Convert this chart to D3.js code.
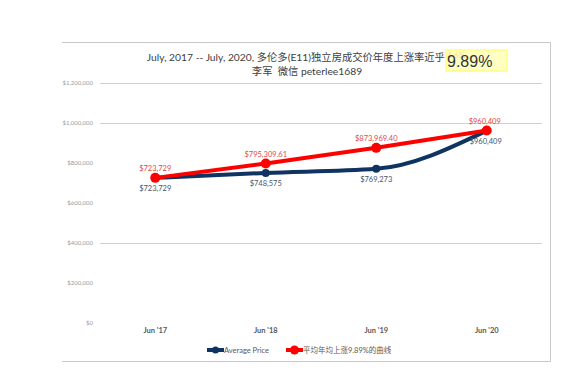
<!DOCTYPE html>
<html>
<head>
<meta charset="utf-8">
<script src="https://cdn.jsdelivr.net/npm/d3@7"></script>
<style>
  body { margin: 0; background: #fff; }
  svg text { font-family: Lato, "Noto Sans CJK SC", sans-serif; }
</style>
</head>
<body>
<div id="chart"></div>
<script>
// chart data
var categories = ["Jun '17", "Jun '18", "Jun '19", "Jun '20"];
var avgPrice = [723729, 748575, 769273, 960409];
var trendPrice = [723729, 795309.61, 873969.40, 960409];
var avgLabels = ["$723,729", "$748,575", "$769,273", "$960,409"];
var trendLabels = ["$723,729", "$795,309.61", "$873,969.40", "$960,409"];
var yTicks = [0, 200000, 400000, 600000, 800000, 1000000, 1200000];
var gridTicks = [400000, 1000000, 1200000];
var seriesNames = ["Average Price", "平均年均上涨9.89%的曲线"];

var width = 586, height = 383;
var blue = '#0f3462', red = '#ff0000';

var svg = d3.select('#chart').append('svg')
  .attr('width', width)
  .attr('height', height);

// chart frame (top, right, bottom)
svg.append('path')
  .attr('d', 'M62,42.5H550.5V361.5H62')
  .attr('fill', 'none')
  .attr('stroke', '#c8c8c8')
  .attr('stroke-width', 1);

var x = d3.scaleBand()
  .domain(categories)
  .range([100, 542]);

var y = d3.scaleLinear()
  .domain([0, 1200000])
  .range([322.5, 82.7]);

function cx(i) {
  return x(categories[i]) + x.bandwidth() / 2;
}

// gridlines
svg.append('g')
  .selectAll('line')
  .data(gridTicks)
  .enter().append('line')
  .attr('x1', 100)
  .attr('x2', 542)
  .attr('y1', function(d) { return Math.round(y(d)) + 0.5; })
  .attr('y2', function(d) { return Math.round(y(d)) + 0.5; })
  .attr('stroke', '#d0d0d0')
  .attr('stroke-width', 1);

// y axis labels
var yAxis = svg.append('g')
  .attr('transform', 'translate(93,0)')
  .call(d3.axisLeft(y).tickValues(yTicks).tickSize(0).tickPadding(0)
    .tickFormat(function(d) { return '$' + d3.format(',')(d); }));
yAxis.select('.domain').remove();
yAxis.selectAll('text')
  .attr('fill', '#9a9a9a')
  .style('font-size', '6px');

// x axis labels
var xAxis = svg.append('g')
  .attr('transform', 'translate(0,328)')
  .call(d3.axisBottom(x).tickSize(0).tickPadding(0));
xAxis.select('.domain').remove();
xAxis.selectAll('text')
  .attr('fill', '#595959')
  .style('font-size', '7.5px')
  .style('font-weight', 'bold');

var line = d3.line()
  .x(function(d, i) { return cx(i); })
  .y(function(d) { return y(d); })
  .curve(d3.curveMonotoneX);

// average price series
svg.append('path')
  .datum(avgPrice)
  .attr('fill', 'none')
  .attr('stroke', blue)
  .attr('stroke-width', 4)
  .attr('stroke-linecap', 'round')
  .attr('d', line);

svg.append('g')
  .selectAll('circle')
  .data(avgPrice)
  .enter().append('circle')
  .attr('cx', function(d, i) { return cx(i); })
  .attr('cy', function(d) { return y(d); })
  .attr('r', 4)
  .attr('fill', blue);

// trend series
svg.append('path')
  .datum(trendPrice)
  .attr('fill', 'none')
  .attr('stroke', red)
  .attr('stroke-width', 4)
  .attr('stroke-linecap', 'round')
  .attr('d', line);

svg.append('g')
  .selectAll('circle')
  .data(trendPrice)
  .enter().append('circle')
  .attr('cx', function(d, i) { return cx(i); })
  .attr('cy', function(d) { return y(d); })
  .attr('r', 5)
  .attr('fill', red);

// data labels
svg.append('g')
  .selectAll('text')
  .data(trendPrice)
  .enter().append('text')
  .attr('x', function(d, i) { return cx(i) - (i === 3 ? 2 : 0); })
  .attr('y', function(d) { return y(d) - 7; })
  .attr('text-anchor', 'middle')
  .attr('fill', '#e04848')
  .style('font-size', '7.5px')
  .text(function(d, i) { return trendLabels[i]; });

svg.append('g')
  .selectAll('text')
  .data(avgPrice)
  .enter().append('text')
  .attr('x', function(d, i) { return cx(i) - (i === 3 ? 1 : 0); })
  .attr('y', function(d) { return y(d) + 13; })
  .attr('text-anchor', 'middle')
  .attr('fill', '#44546a')
  .style('font-size', '7.5px')
  .text(function(d, i) { return avgLabels[i]; });

// title
var title = svg.append('text')
  .attr('x', 306)
  .attr('y', 61)
  .attr('text-anchor', 'middle')
  .attr('fill', '#404040')
  .style('font-size', '10.3px');
title.append('tspan').text('July, 2017 -- July, 2020, 多伦多(E11)独立房成交价年度上涨率近乎 ');
title.append('tspan').attr('fill', '#e07030').style('font-size', '8px').attr('dy', -3).text('4.6%');

svg.append('text')
  .attr('x', 307)
  .attr('y', 75)
  .attr('text-anchor', 'middle')
  .attr('fill', '#404040')
  .style('font-size', '10.3px')
  .style('white-space', 'pre')
  .text('李军\u00a0\u00a0微信 peterlee1689');

// yellow highlight box
svg.append('rect')
  .attr('x', 446)
  .attr('y', 50)
  .attr('width', 61)
  .attr('height', 21)
  .attr('fill', '#ffffb0')
  .attr('fill-opacity', 0.75)
  .attr('stroke', '#ffff80')
  .attr('stroke-width', 1.5);

svg.append('text')
  .attr('x', 447)
  .attr('y', 67)
  .attr('fill', '#333')
  .style('font-family', '"Liberation Sans", Arial, sans-serif')
  .style('font-size', '16px')
  .text('9.89%');

// legend
var legendX = [207, 286];
var legendColors = [blue, red];
var legend = svg.append('g')
  .selectAll('g')
  .data(seriesNames)
  .enter().append('g')
  .attr('transform', function(d, i) { return 'translate(' + legendX[i] + ',350)'; });

legend.append('line')
  .attr('x1', 0)
  .attr('x2', 17)
  .attr('stroke', function(d, i) { return legendColors[i]; })
  .attr('stroke-width', 4);

legend.append('circle')
  .attr('cx', 8.5)
  .attr('r', function(d, i) { return i === 0 ? 3.5 : 4.5; })
  .attr('fill', function(d, i) { return legendColors[i]; });

legend.append('text')
  .attr('x', 17)
  .attr('y', 3)
  .attr('fill', '#595959')
  .style('font-size', '7.5px')
  .text(function(d) { return d; });
</script>
</body>
</html>
